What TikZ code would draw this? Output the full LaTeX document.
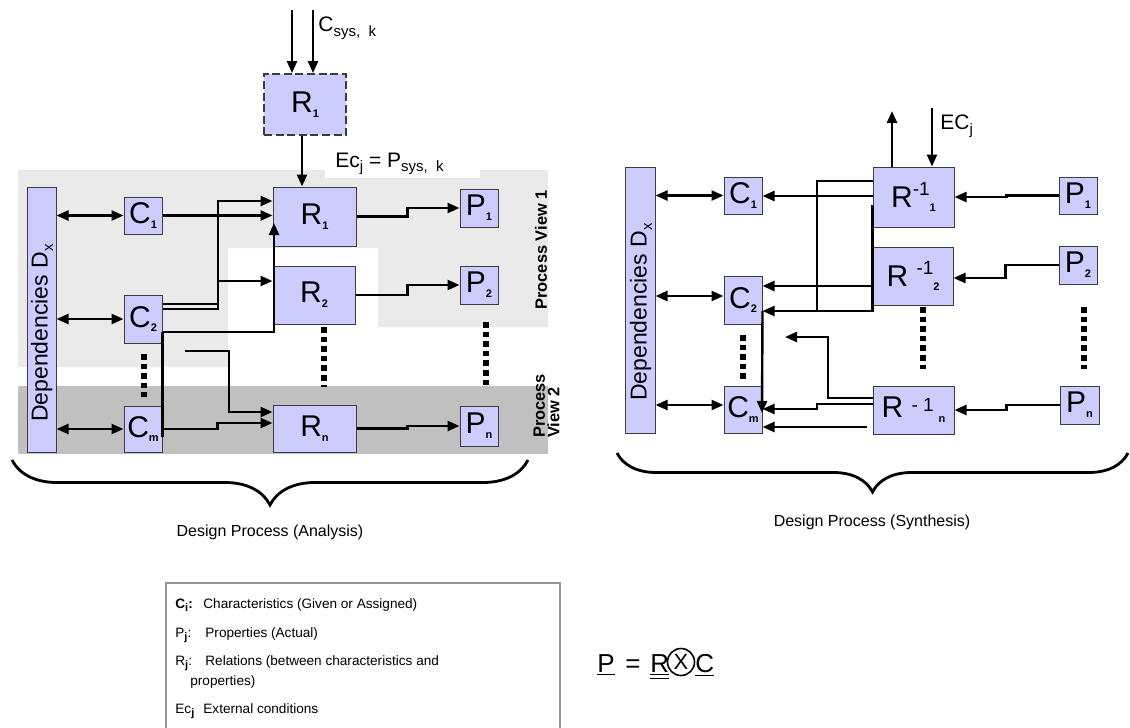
\documentclass[tikz,border=0pt]{standalone}
\usepackage{fontspec}
\setmainfont{Liberation Sans}
\usetikzlibrary{positioning,arrows.meta,calc,decorations.pathreplacing}
\definecolor{BoxFill}{RGB}{204,204,255}
\definecolor{BoxLine}{RGB}{60,60,60}
\definecolor{ViewOne}{RGB}{234,234,234}
\definecolor{ViewTwo}{RGB}{192,192,192}
\definecolor{LegLine}{RGB}{150,150,150}
\newcommand{\bsub}[1]{\raisebox{-0.3ex}{\fontsize{5.5}{5.5}\selectfont\bfseries #1}}
\newcommand{\lsub}[1]{\raisebox{-0.45ex}{\fontsize{7.5}{8}\selectfont #1}}
\newcommand{\ssub}[1]{\raisebox{-0.5ex}{\fontsize{5.5}{6}\selectfont\bfseries #1}}
\newcommand{\bsup}[1]{\raisebox{0.75ex}{\fontsize{9.5}{9.5}\selectfont #1}}

\begin{document}
\begin{tikzpicture}[
    x=0.5pt, y=-0.5pt,
    every node/.style={inner sep=0pt},
    blk/.style={draw=BoxLine, fill=BoxFill, line width=0.5pt, font=\fontsize{15}{15}\selectfont},
    sz/.style 2 args={minimum width=#1*0.5pt, minimum height=#2*0.5pt},
    arr/.style={line width=1.2pt, -{Triangle[length=6pt,width=5pt]}},
    biarr/.style={line width=1.2pt, {Triangle[length=6pt,width=5pt]}-{Triangle[length=6pt,width=5pt]}},
    wire/.style={line width=1.2pt},
    dotcol/.style={line width=3pt, dash pattern=on 2.8pt off 2pt},
    curly/.style={decorate, decoration={brace, mirror, amplitude=#1}, line width=1.4pt},
    lbl/.style={font=\fontsize{10.5}{12}\selectfont},
    deplbl/.style={font=\fontsize{11.5}{12}\selectfont, rotate=90},
    pview/.style={font=\fontsize{8.2}{7.2}\selectfont\bfseries, rotate=90},
    captxt/.style={font=\fontsize{8}{9}\selectfont},
    legtext/.style={font=\fontsize{6.8}{8}\selectfont, anchor=base west},
    frm/.style={font=\fontsize{13}{14}\selectfont, anchor=base west},
]
\useasboundingbox (0,0) rectangle (1130,728);

% process views
\fill[ViewOne] (18,170) -- (548,170) -- (548,327) -- (378,327) -- (378,248)
    -- (228,248) -- (228,367) -- (18,367) -- cycle;
\fill[ViewTwo] (18,386) rectangle (548,454);
\fill[white] (325,150) rectangle (480,178);

% analysis
\node[blk, sz={82}{61}, dash pattern=on 4pt off 1.8pt, line width=0.9pt] (R0) at (305,104.5) {R\bsub{1}};
\node[blk, sz={29}{265}] (Dep) at (41.5,319.5) {};
\node[deplbl] (DepT) at (42,333) {Dependencies D\lsub{x}};
\node[blk, sz={38}{37}] (C1) at (143,215.5) {C\bsub{1}};
\node[blk, sz={38}{48}] (C2) at (143,319) {C\bsub{2}};
\node[blk, sz={38}{46}] (Cm) at (143,429) {C\bsub{m}};
\node[blk, sz={83}{59}] (R1) at (314.5,216.5) {R\bsub{1}};
\node[blk, sz={82}{58}] (R2) at (314,295) {R\bsub{2}};
\node[blk, sz={83}{47}] (Rn) at (314.5,428.5) {R\bsub{n}};
\node[blk, sz={38}{38}] (P1) at (479,208) {P\bsub{1}};
\node[blk, sz={38}{38}] (P2) at (479,285) {P\bsub{2}};
\node[blk, sz={38}{40}] (Pn) at (479,426) {P\bsub{n}};

\coordinate (in1) at (292,10);
\coordinate (in2) at (313,10);
\coordinate (r1in) at (274,223);
\coordinate (cfree) at (185,351);
\node[lbl, anchor=west] (csys) at (318,28) {C\lsub{sys,\ \ k}};
\node[lbl, anchor=base west] (eclbl) at (335,167) {Ec\lsub{j} = P\lsub{sys,\ \ k}};
\node[pview] (pv1) at (541,250) {Process View 1};
\node[pview, align=left] (pv2) at (546.5,406) {Process\\View 2};

\draw[arr] (in1) -- (in1 |- R0.north);
\draw[arr] (in2) -- (in2 |- R0.north);
\draw[arr] (302,0 |- R0.south) -- (302,0 |- R1.north);
\draw[biarr] (Dep.east |- C1.west) -- (C1.west);
\draw[biarr] (Dep.east |- C2.west) -- (C2.west);
\draw[biarr] (Dep.east |- Cm.west) -- (Cm.west);
\draw[arr] (C1.east) -- (C1.east -| R1.west);
\draw[arr] (C2.east |- 0,304) -| (218,201) -- (R1.west |- 0,201);
\draw[arr] (C2.east |- 0,309) -| (218,281) -- (R2.west |- 0,281);
\draw[arr] (C2.east |- 0,332) -| (r1in);
\draw[wire] (C2.east |- 0,332) -- (Cm.east |- 0,437);
\draw[arr] (Cm.east) -- ++(55,0) |- (Rn.west |- 0,423);
\draw[arr] (cfree) -| (229,412) -- (Rn.west |- 0,412);
\draw[arr] (R1.east) -- ++(51,0) |- (P1.west);
\draw[arr] (R2.east) -- ++(52,0) |- (P2.west);
\draw[arr] (Rn.east) -- ++(51,0) |- (Pn.west);
\draw[dotcol] (144,354) -- (144,397);
\draw[dotcol] (324,327) -- (324,387);
\draw[dotcol] (486,322) -- (486,385);

% synthesis
\node[blk, sz={30}{266}] (DepR) at (640,300) {};
\node[deplbl] (DepRT) at (641,312) {Dependencies D\lsub{x}};
\node[blk, sz={38}{37}] (C1r) at (743,195.5) {C\bsub{1}};
\node[blk, sz={38}{48}] (C2r) at (743,300) {C\bsub{2}};
\node[blk, sz={38}{47}] (Cmr) at (743,409.5) {C\bsub{m}};
\node[blk, sz={81}{60}] (RI1) at (913.5,197) {R\bsup{-1}\bsub{1}};
\node[blk, sz={80}{58}] (RI2) at (913,276) {R \bsup{-1}\bsub{2}};
\node[blk, sz={81}{48}] (RIn) at (913.5,410) {R \raisebox{0.4ex}{\fontsize{9.5}{9.5}\selectfont - 1}\,\bsub{n}};
\node[blk, sz={38}{37}] (P1r) at (1078,195.5) {P\bsub{1}};
\node[blk, sz={38}{38}] (P2r) at (1078,265) {P\bsub{2}};
\node[blk, sz={39}{38}] (Pnr) at (1079.5,405) {P\bsub{n}};

\coordinate (rout) at (892,111);
\coordinate (rin) at (932,108);
\coordinate (cmtip) at (762,413);
\coordinate (rfree) at (785,337);
\coordinate (rlow) at (867,427);
\node[lbl, anchor=west] (ecr) at (940,126) {EC\lsub{j}};

\draw[arr] (892,0 |- RI1.north) -- (rout);
\draw[arr] (rin) -- (932,0 |- RI1.north);
\draw[biarr] (DepR.east |- C1r.west) -- (C1r.west);
\draw[biarr] (DepR.east |- 0,296) -- (C2r.west |- 0,296);
\draw[biarr] (DepR.east |- 0,405) -- (Cmr.west |- 0,405);
\draw[arr] (RI1.west |- 0,196) -- (C1r.east |- 0,196);
\draw[wire] (RI1.west |- 0,181) -| (817,311);
\draw[arr] (RI1.west |- 0,205) -- (RI1.west |- 0,311) -- (C2r.east |- 0,311);
\draw[arr] (RI2.west |- 0,286) -- (C2r.east |- 0,286);
\draw[arr] (C2r.east |- 0,311) -- (cmtip);
\draw[arr] (RIn.west |- 0,398) -| (828,337) -- (rfree);
\draw[arr] (RIn.west |- 0,404) -| (817,409) -- (Cmr.east |- 0,409);
\draw[arr] (rlow) -- (Cmr.east |- rlow);
\draw[arr] (P1r.west) -- ++(-52,0) |- (RI1.east);
\draw[arr] (P2r.west) -- ++(-53,0) |- (RI2.east |- 0,278);
\draw[arr] (Pnr.west) -- ++(-53,0) |- (RIn.east);
\draw[dotcol] (743,335) -- (743,380);
\draw[dotcol] (923,307) -- (923,369);
\draw[dotcol] (1084,307) -- (1084,369);

% braces
\draw[curly=22.5pt] (12,460) -- (528,460);
\node[captxt] (anl) at (270,532) {Design Process (Analysis)};
\draw[curly=19.5pt] (617,453) -- (1128,453);
\node[captxt] (syn) at (872,522) {Design Process (Synthesis)};

% legend
\draw[LegLine, line width=0.6pt] (166,583) rectangle (560,740);
\node[legtext] (lc) at (175,608) {\textbf{C\ssub{i}:}};
\node[legtext] (lct) at (203,608) {Characteristics (Given or Assigned)};
\node[legtext] (lp) at (175,637) {P\ssub{j}:};
\node[legtext] (lpt) at (205,637) {Properties (Actual)};
\node[legtext] (lr) at (175,665) {R\ssub{j}:};
\node[legtext] (lrt) at (205,665) {Relations (between characteristics and};
\node[legtext] (lrt2) at (190,685) {properties)};
\node[legtext] (le) at (175,713) {Ec\ssub{j}};
\node[legtext] (let) at (203,713) {External conditions};

% formula
\node[frm] (fP) at (597,672) {\underline{P}};
\node[frm] (fEq) at (625,672) {=};
\node[frm] (fR) at (650,672) {\underline{\underline{R}}};
\node[circle, draw, line width=0.8pt, minimum size=13.5pt] (fX) at (681,662) {\fontsize{11}{11}\selectfont X};
\node[frm] (fC) at (695,672) {\underline{C}};
\end{tikzpicture}
\end{document}
